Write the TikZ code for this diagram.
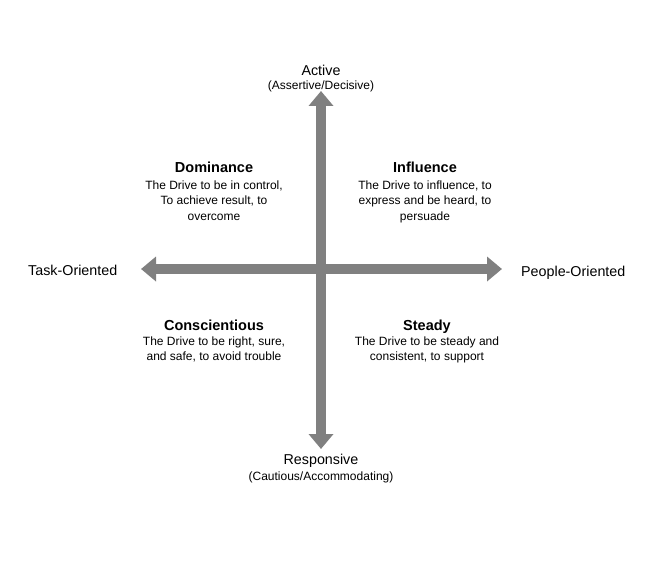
\documentclass[tikz,border=0pt]{standalone}
\usepackage{fontspec}
\setmainfont{Liberation Sans}
\usetikzlibrary{arrows.meta}
\definecolor{axisgray}{HTML}{808080}
\newcommand\disctitlestyle{\fontsize{14.5}{17}\selectfont\bfseries}
\newcommand\disctextstyle{\fontsize{12}{15.5}\selectfont}
\newcommand\axislabelstyle{\fontsize{14.3}{17}\selectfont}
\newcommand\axisnotestyle{\fontsize{12}{15}\selectfont}
\newcommand\axiswidth{10pt}
\tikzset{
  axis/.style={draw=axisgray, line width=\axiswidth,
    {Triangle[width=24pt,length=15pt]}-{Triangle[width=24pt,length=15pt]}},
  quad/.style={align=center, inner sep=0pt, anchor=north, font=\disctextstyle},
  quadtitle/.style={inner sep=0pt, anchor=base, font=\disctitlestyle}
}

\begin{document}
\begin{tikzpicture}[x=1pt, y=-1pt]
    \useasboundingbox (0, 0) rectangle (652, 564) ;
    \coordinate (top) at (321, 91) ;
    \coordinate (bottom) at (321, 449) ;
    \coordinate (left) at (141, 269) ;
    \coordinate (right) at (502, 269) ;
    \draw[axis] (bottom) -- (top) ;
    \draw[axis] (left) -- (right) ;
    % axis labels
    \node (active) at (321, 70) {\axislabelstyle Active} ;
    \node (activenote) at (321, 86) {\axisnotestyle (Assertive/Decisive)} ;
    \node (responsive) at (321, 461) {\axislabelstyle Responsive} ;
    \node (responsivenote) at (321, 477) {\axisnotestyle (Cautious/Accommodating)} ;
    \node[anchor=west, inner sep=0pt] (task) at (28, 270) {\axislabelstyle Task-Oriented} ;
    \node[anchor=west, inner sep=0pt] (people) at (521, 273) {\axislabelstyle People-Oriented} ;
    % quadrants
    \node[quadtitle] (dominance) at (214, 172.5) {Dominance} ;
    \node[quad] (dominancetext) at (214, 180.5)
      {The Drive to be in control,\\ To achieve result, to\\ overcome} ;
    \node[quadtitle] (influence) at (425, 172.5) {Influence} ;
    \node[quad] (influencetext) at (425, 180.5)
      {The Drive to influence, to\\ express and be heard, to\\ persuade} ;
    \node[quadtitle] (conscientious) at (214, 330) {Conscientious} ;
    \node[quad] (conscientioustext) at (214, 336.5)
      {The Drive to be right, sure,\\ and safe, to avoid trouble} ;
    \node[quadtitle] (steady) at (427, 330) {Steady} ;
    \node[quad] (steadytext) at (427, 336.5)
      {The Drive to be steady and\\ consistent, to support} ;
\end{tikzpicture}
\end{document}
